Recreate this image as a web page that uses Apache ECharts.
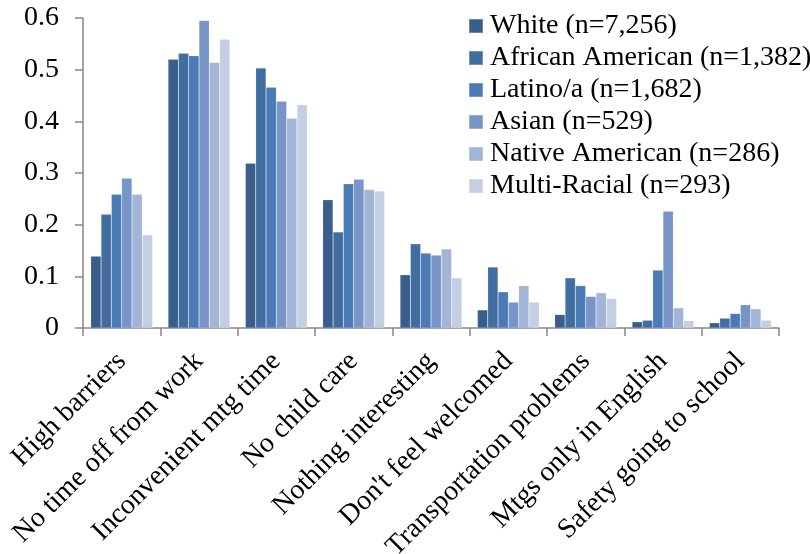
<!DOCTYPE html>
<html>
<head>
<meta charset="utf-8">
<script src="https://cdn.jsdelivr.net/npm/echarts@6/dist/echarts.min.js"></script>
<style>
  html, body { margin: 0; padding: 0; background: #fff; }
  #chart { width: 810px; height: 554px; }
</style>
</head>
<body>
<div id="chart"></div>
<script>
// Reasons for not attending school meetings, share of parents by group
const categories = [
  'High barriers', 'No time off from work', 'Inconvenient mtg time', 'No child care',
  'Nothing interesting', "Don't feel welcomed", 'Transportation problems',
  'Mtgs only in English', 'Safety going to school'
];
const groupNames = [
  'White (n=7,256)', 'African American (n=1,382)', 'Latino/a (n=1,682)',
  'Asian (n=529)', 'Native American (n=286)', 'Multi-Racial (n=293)'
];
const white           = [0.139, 0.520, 0.319, 0.248, 0.103, 0.035, 0.026, 0.012, 0.010];
const africanAmerican = [0.220, 0.532, 0.503, 0.186, 0.163, 0.118, 0.097, 0.015, 0.019];
const latino          = [0.259, 0.527, 0.466, 0.279, 0.145, 0.070, 0.082, 0.112, 0.028];
const asian           = [0.290, 0.595, 0.439, 0.288, 0.141, 0.050, 0.061, 0.226, 0.045];
const nativeAmerican  = [0.259, 0.514, 0.406, 0.268, 0.153, 0.082, 0.068, 0.039, 0.037];
const multiRacial     = [0.180, 0.559, 0.432, 0.265, 0.097, 0.050, 0.057, 0.014, 0.015];
const yTicks = [0, 0.1, 0.2, 0.3, 0.4, 0.5, 0.6];

const seriesValues = [white, africanAmerican, latino, asian, nativeAmerican, multiRacial];
const palette = ['#3A5E8C', '#426DA1', '#4A7BB6', '#7796C7', '#A3B5D7', '#C4CFE3'];
const font = '"Liberation Serif", "Times New Roman", serif';
const axisGray = '#868686';

const chart = echarts.init(document.getElementById('chart'));
chart.setOption({
  animation: false,
  color: palette,
  textStyle: { fontFamily: font },
  grid: {
    left: 83, right: 31, top: 18, bottom: 226,
    containLabel: false,
    outerBoundsMode: 'none'
  },
  legend: {
    orient: 'vertical',
    left: 463,
    top: 7,
    itemWidth: 14,
    itemHeight: 14,
    itemGap: 4,
    icon: 'rect',
    textStyle: { fontFamily: font, fontSize: 28, lineHeight: 28, color: '#000', padding: [0, 0, 0, 2] },
    data: groupNames
  },
  xAxis: {
    type: 'category',
    data: categories,
    axisLine: { lineStyle: { color: axisGray, width: 1.5 } },
    axisTick: { show: true, length: 8, lineStyle: { color: axisGray, width: 1.5 } },
    axisLabel: {
      rotate: 45,
      interval: 0,
      margin: 29,
      fontFamily: font,
      fontSize: 28,
      color: '#000'
    }
  },
  yAxis: {
    type: 'value',
    min: yTicks[0],
    max: yTicks[yTicks.length - 1],
    interval: 0.1,
    splitLine: { show: false },
    axisLine: { show: true, lineStyle: { color: axisGray, width: 1.5 } },
    axisTick: { show: true, length: 8, lineStyle: { color: axisGray, width: 1.5 } },
    axisLabel: {
      margin: 24,
      fontFamily: font,
      fontSize: 28,
      color: '#000',
      formatter: v => (Math.round(v * 10) / 10).toString()
    }
  },
  series: seriesValues.map((vals, i) => ({
    name: groupNames[i],
    type: 'bar',
    data: vals,
    barGap: '0%',
    barCategoryGap: '20%',
    itemStyle: { borderColor: 'rgba(255,255,255,0.25)', borderWidth: 0.5 }
  }))
});
</script>
</body>
</html>
